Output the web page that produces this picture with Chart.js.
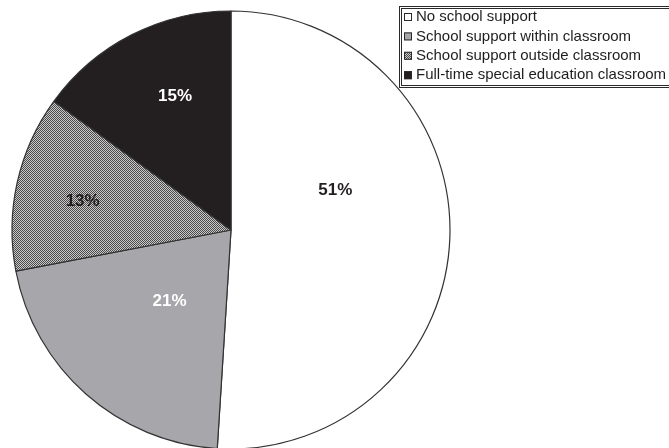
<!DOCTYPE html>
<html>
<head>
<meta charset="utf-8">
<script src="https://cdn.jsdelivr.net/npm/chart.js@4.4.1/dist/chart.umd.min.js"></script>
<style>
  html, body { margin: 0; padding: 0; background: #ffffff; }
  #wrap { width: 669px; height: 448px; position: relative; }
</style>
</head>
<body>
<div id="wrap"><canvas id="c" width="669" height="448"></canvas></div>
<script>
// Support setting categories and their share of children (%)
const categories = [
  'No school support',
  'School support within classroom',
  'School support outside classroom',
  'Full-time special education classroom'
];
const shares = [51, 21, 13, 15];

// Label colours per slice (dark text on light slices, white on dark ones)
const labelColors = ['#231f20', '#ffffff', '#231f20', '#ffffff'];
// Label placement: fraction of radius and angular nudge (degrees) from the slice mid-angle
const labelPlacement = [
  { frac: 0.51, nudge: -22.7 },
  { frac: 0.43, nudge: -0.7 },
  { frac: 0.69, nudge: -1.6 },
  { frac: 0.66, nudge: 4.2 }
];

const canvas = document.getElementById('c');
const ctx = canvas.getContext('2d');

// Fine checkerboard fill used for the "outside classroom" slice
function checkerPattern() {
  const tile = document.createElement('canvas');
  tile.width = 2; tile.height = 2;
  const g = tile.getContext('2d');
  g.fillStyle = '#cacaca';
  g.fillRect(0, 0, 2, 2);
  g.fillStyle = '#4a4a4a';
  g.fillRect(0, 0, 1, 1);
  g.fillRect(1, 1, 1, 1);
  return ctx.createPattern(tile, 'repeat');
}

const fills = ['#ffffff', '#a7a7ab', checkerPattern(), '#231f20'];
const FONT = '"Liberation Sans", Arial, Helvetica, sans-serif';

// Percentage labels inside the slices
const sliceLabels = {
  id: 'sliceLabels',
  afterDatasetsDraw(chart) {
    const meta = chart.getDatasetMeta(0);
    const c = chart.ctx;
    c.save();
    c.font = 'bold 17px ' + FONT;
    c.textAlign = 'center';
    c.textBaseline = 'middle';
    meta.data.forEach((arc, i) => {
      const p = arc.getProps(['x', 'y', 'startAngle', 'endAngle', 'outerRadius'], true);
      const place = labelPlacement[i];
      const mid = (p.startAngle + p.endAngle) / 2 + place.nudge * Math.PI / 180;
      const r = p.outerRadius * place.frac;
      c.fillStyle = labelColors[i];
      c.fillText(shares[i] + '%', p.x + Math.cos(mid) * r, p.y + Math.sin(mid) * r);
    });
    c.restore();
  }
};

// Boxed legend in the top-right corner
const boxLegend = {
  id: 'boxLegend',
  afterDraw(chart) {
    const c = chart.ctx;
    const ds = chart.data.datasets[0];
    const left = 399, top = 6, rowH = 19.4;
    c.save();
    c.fillStyle = '#ffffff';
    c.fillRect(left, top, 300, 82);
    c.strokeStyle = '#2a2a2a';
    c.lineWidth = 1;
    c.strokeRect(left + 0.5, top + 0.5, 300, 81);
    c.strokeRect(left + 2.5, top + 2.5, 300, 77);
    c.font = '15px ' + FONT;
    c.textBaseline = 'middle';
    c.textAlign = 'left';
    chart.data.labels.forEach((label, i) => {
      const cy = top + 11 + i * rowH;
      c.fillStyle = ds.backgroundColor[i];
      c.fillRect(404, cy - 4, 8, 8);
      c.strokeStyle = '#2a2a2a';
      c.strokeRect(404.5, cy - 3.5, 7, 7);
      c.fillStyle = '#1e1e1e';
      c.fillText(label, 416, cy);
    });
    c.restore();
  }
};

new Chart(ctx, {
  type: 'pie',
  data: {
    labels: categories,
    datasets: [{
      data: shares,
      backgroundColor: fills,
      borderColor: '#333333',
      borderWidth: 1.2,
      radius: 219
    }]
  },
  options: {
    responsive: false,
    animation: false,
    devicePixelRatio: 1,
    events: [],
    layout: { padding: { left: 12, right: 219, top: 12, bottom: 0 } },
    plugins: {
      legend: { display: false },
      tooltip: { enabled: false },
      title: { display: false }
    }
  },
  plugins: [sliceLabels, boxLegend]
});
</script>
</body>
</html>
